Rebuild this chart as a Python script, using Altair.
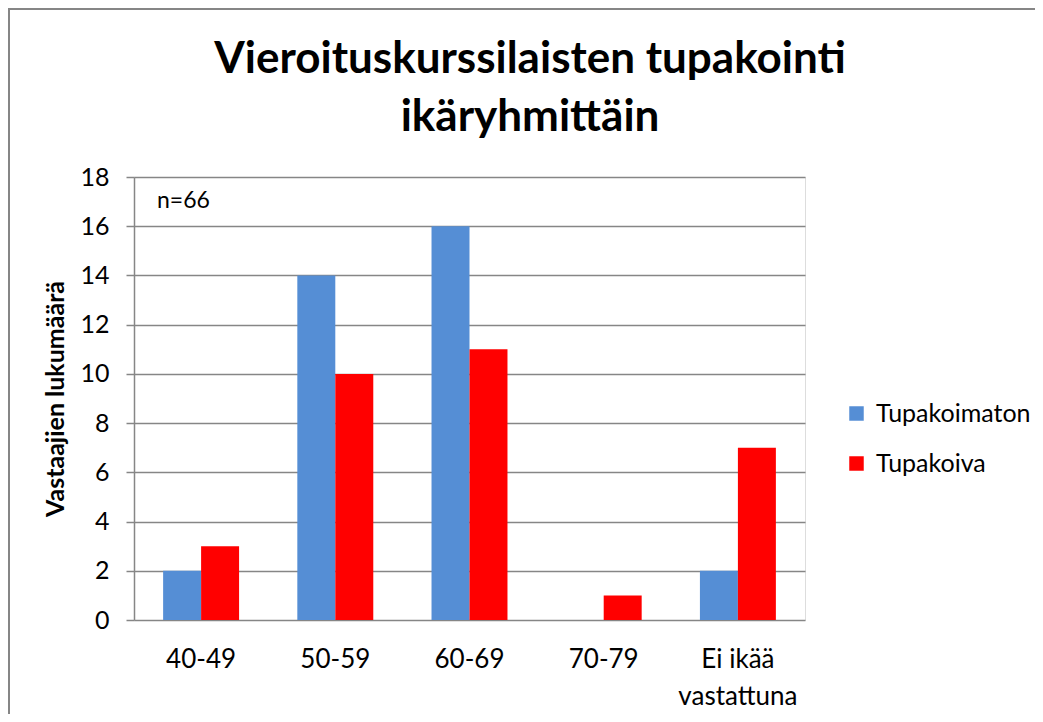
import altair as alt
import pandas as pd

categories = ["40-49", "50-59", "60-69", "70-79", "Ei ikää vastattuna"]
series = ["Tupakoimaton", "Tupakoiva"]
tupakoimaton = [2, 14, 16, 0, 2]
tupakoiva = [3, 10, 11, 1, 7]
colors = ["#558ED5", "#FF0000"]
y_ticks = list(range(0, 19, 2))
title_lines = "Vieroituskurssilaisten tupakointi\nikäryhmittäin"
note_text = "n=66"

rows = []
for c, a, b in zip(categories, tupakoimaton, tupakoiva):
    rows.append({"cat": c, "series": series[0], "value": a})
    rows.append({"cat": c, "series": series[1], "value": b})
df = pd.DataFrame(rows)

FONT = "Lato"
W, H = 671, 443
PL, PT = 126, 169
PR = 1043 - 16 - PL - W
PB = 722 - 16 - PT - H

bars = alt.Chart(df).mark_bar().encode(
    x=alt.X("cat:N", sort=categories, title=None,
            scale=alt.Scale(paddingInner=0.434, paddingOuter=0.217),
            axis=alt.Axis(labelAngle=0, ticks=False, domain=False, grid=False,
                          labelFontSize=26, labelColor="#000000", labelFont=FONT,
                          labelPadding=26, labelLineHeight=37,
                          labelExpr="datum.value == 'Ei ikää vastattuna' ? ['Ei ikää', 'vastattuna'] : datum.value")),
    xOffset=alt.XOffset("series:N", sort=series),
    y=alt.Y("value:Q", title="Vastaajien lukumäärä",
            scale=alt.Scale(domain=[0, 18], nice=False),
            axis=alt.Axis(values=y_ticks, grid=True, gridColor="#868686", gridWidth=1.5,
                          domain=True, domainColor="#868686", domainWidth=1.5,
                          ticks=True, tickSize=8, tickColor="#868686", tickWidth=1.5,
                          labelFontSize=25, labelColor="#000000", labelFont=FONT,
                          labelPadding=17, titleFontSize=25, titleFont=FONT,
                          titleFontWeight="bold", titleColor="#000000", titlePadding=11)),
    color=alt.Color("series:N", sort=series, title=None,
                    scale=alt.Scale(domain=series, range=colors),
                    legend=alt.Legend(orient="none", legendX=710, legendY=224,
                                      symbolType="square", symbolSize=210,
                                      symbolStrokeWidth=0, rowPadding=24,
                                      labelFontSize=25, labelFont=FONT,
                                      labelColor="#000000", labelOffset=7)),
)

note = alt.Chart(pd.DataFrame({"t": [note_text]})).mark_text(
    align="left", baseline="middle", fontSize=23, font=FONT, color="#000000"
).encode(x=alt.value(23), y=alt.value(24), text="t:N")

title = alt.Chart(pd.DataFrame({"t": [title_lines]})).mark_text(
    align="center", baseline="alphabetic", fontSize=44, font=FONT, fontWeight="bold",
    color="#000000", lineBreak="\n", lineHeight=58
).encode(x=alt.value(396), y=alt.value(-104), text="t:N")

frame = alt.Chart(pd.DataFrame({"a": [0]})).mark_rect(
    fill=None, stroke="#868686", strokeWidth=2, clip=False
).encode(x=alt.value(-PL + 1), x2=alt.value(W + PR + 40), y=alt.value(-PT + 1), y2=alt.value(H + PB + 40))

chart = alt.layer(frame, bars, note, title).properties(
    width=W, height=H,
    autosize=alt.AutoSizeParams(type="none"),
    padding={"left": PL, "top": PT, "right": PR, "bottom": PB},
).configure_view(stroke=None).configure(background="#ffffff")

chart.save("out.html", embed_options={"renderer": "svg", "actions": False})
